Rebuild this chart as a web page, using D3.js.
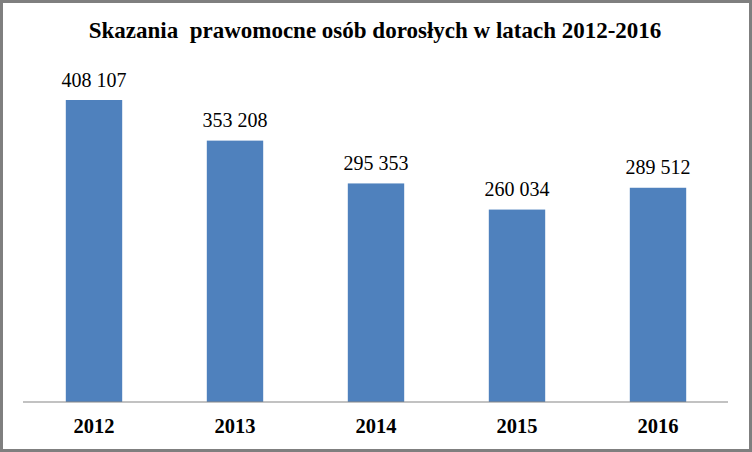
<!DOCTYPE html>
<html><head><meta charset="utf-8">
<script src="https://cdn.jsdelivr.net/npm/d3@7"></script>
<style>body{margin:0;background:#fff}svg{display:block}</style>
</head><body>
<script>
const categories = ["2012","2013","2014","2015","2016"];
const values = [408107, 353208, 295353, 260034, 289512];
const valueLabels = ["408 107","353 208","295 353","260 034","289 512"];
const title = "Skazania  prawomocne osób dorosłych w latach 2012-2016";

const W = 752, H = 452;
const svg = d3.select("body").append("svg").attr("width", W).attr("height", H);
svg.append("rect").attr("x",1.5).attr("y",1.5).attr("width",W-3).attr("height",H-3)
  .attr("fill","#fff").attr("stroke","#7f7f7f").attr("stroke-width",3);

const x = d3.scaleBand().domain(categories).range([23.5, 728.5]).paddingInner(0.6).paddingOuter(0.3);
const y = d3.scaleLinear().domain([0, 408107]).range([402, 100]);

svg.append("text").attr("x", 375).attr("y", 38.3).attr("text-anchor","middle")
  .attr("font-family","Liberation Serif").attr("font-weight","bold").attr("font-size",23)
  .attr("fill","#000").attr("xml:space","preserve").style("white-space","pre").text(title);

svg.selectAll("rect.bar").data(values).join("rect").attr("class","bar")
  .attr("x",(d,i)=>x(categories[i])).attr("width",x.bandwidth())
  .attr("y",d=>y(d)).attr("height",d=>y(0)-y(d)).attr("fill","#4f81bd");

svg.selectAll("text.lab").data(values).join("text").attr("class","lab")
  .attr("x",(d,i)=>x(categories[i])+x.bandwidth()/2).attr("y",d=>y(d)-13.3)
  .attr("text-anchor","middle").attr("font-family","Liberation Serif").attr("font-size",20)
  .attr("fill","#000").text((d,i)=>valueLabels[i]);

const axis = d3.axisBottom(x).tickSize(0).tickPadding(0);
const g = svg.append("g").attr("transform","translate(0,402)").call(axis);
g.select(".domain").attr("stroke","#868686").attr("stroke-width",1.2).attr("d","M23,0H728");
g.selectAll(".tick text").attr("font-family","Liberation Serif").attr("font-weight","bold")
  .attr("font-size",20.5).attr("fill","#000").attr("dy",null).attr("y",31.3);
</script>
</body></html>
